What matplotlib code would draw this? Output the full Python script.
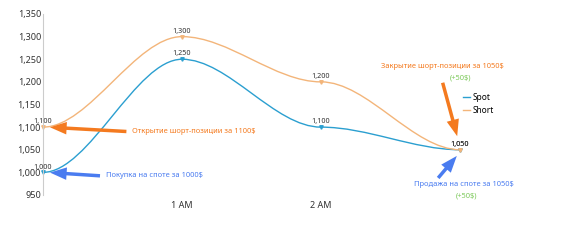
import matplotlib.pyplot as plt
import numpy as np
from matplotlib.path import Path
from matplotlib.patches import PathPatch
from matplotlib.lines import Line2D

x = [0, 1, 2, 3]
x_labels = ['', '1 AM', '2 AM', '']
spot = [1000, 1250, 1100, 1050]
short = [1100, 1300, 1200, 1050]
yticks = [950, 1000, 1050, 1100, 1150, 1200, 1250, 1300, 1350]

spot_color = '#2b9fd0'
short_color = '#f3b57a'
orange = '#f47a1f'
blue = '#4a7cf0'
green = '#7cc95a'

plt.rcParams['font.family'] = ['Noto Sans', 'DejaVu Sans']


def smooth_path(xs, ys):
    # cubic segments with flat tangents at every point
    verts = [(xs[0], ys[0])]
    codes = [Path.MOVETO]
    for i in range(len(xs) - 1):
        h = xs[i + 1] - xs[i]
        verts += [(xs[i] + h / 3, ys[i]), (xs[i + 1] - h / 3, ys[i + 1]), (xs[i + 1], ys[i + 1])]
        codes += [Path.CURVE4] * 3
    return Path(verts, codes)


fig = plt.figure(figsize=(5.66, 2.41), dpi=100)
ax = fig.add_axes([43 / 566, 46 / 241, 417 / 566, 181 / 241])

for ys, col in [(spot, spot_color), (short, short_color)]:
    ax.add_patch(PathPatch(smooth_path(x, ys), fill=False, edgecolor=col, lw=1.0, clip_on=False))
    ax.plot(x, ys, ls='none', marker='v', ms=2.5, color=col, clip_on=False)
    for xi, yi in zip(x, ys):
        ax.text(xi, yi + 4, f'{yi:,}', fontsize=5.2, ha='center', va='bottom', color='#333333')

ax.set_xlim(0, 3)
ax.set_ylim(950, 1350)
ax.set_yticks(yticks)
ax.set_yticklabels([f'{v:,}' for v in yticks])
ax.set_xticks(x[1:3])
ax.set_xticklabels(x_labels[1:3])
ax.tick_params(axis='y', length=0, labelsize=6.5, colors='#333333', pad=1.5)
ax.tick_params(axis='x', length=0, labelsize=6.5, colors='#333333', pad=4)
for s in ['top', 'right', 'bottom']:
    ax.spines[s].set_visible(False)
ax.spines['left'].set_color('#cccccc')
ax.spines['left'].set_linewidth(0.8)

handles = [Line2D([], [], color=spot_color, lw=1), Line2D([], [], color=short_color, lw=1)]
ax.legend(handles, ['Spot', 'Short'], loc='upper left', bbox_to_anchor=(0.995, 0.59),
          frameon=False, fontsize=6, handlelength=0.9, handletextpad=0.3, labelspacing=0.45,
          borderaxespad=0.2)

arrow_kw = dict(arrowstyle='simple,head_length=1.2,head_width=0.9,tail_width=0.25', lw=0)

ax.annotate('', xy=(0.03, 1100), xytext=(0.62, 1090),
            arrowprops=dict(color=orange, **arrow_kw))
ax.text(0.64, 1090, 'Открытие шорт-позиции за 1100$', fontsize=5.4, color=orange, va='center')

ax.annotate('', xy=(0.03, 1000), xytext=(0.43, 992),
            arrowprops=dict(color=blue, **arrow_kw))
ax.text(0.45, 992, 'Покупка на споте за 1000$', fontsize=5.4, color=blue, va='center')

ax.text(2.87, 1233, 'Закрытие шорт-позиции за 1050$', fontsize=5.4, color=orange,
        ha='center', va='center')
ax.text(3.0, 1209, '(+50$)', fontsize=5.4, color=green, ha='center', va='center')
ax.annotate('', xy=(2.985, 1074), xytext=(2.87, 1204),
            arrowprops=dict(color=orange, **arrow_kw))

ax.text(3.03, 974, 'Продажа на споте за 1050$', fontsize=5.4, color=blue,
        ha='center', va='center')
ax.text(3.05, 948, '(+50$)', fontsize=5.4, color=green, ha='center', va='center')
ax.annotate('', xy=(2.99, 1041), xytext=(2.83, 983),
            arrowprops=dict(color=blue, **arrow_kw))

fig.savefig('out.png', dpi=100, facecolor='white')
